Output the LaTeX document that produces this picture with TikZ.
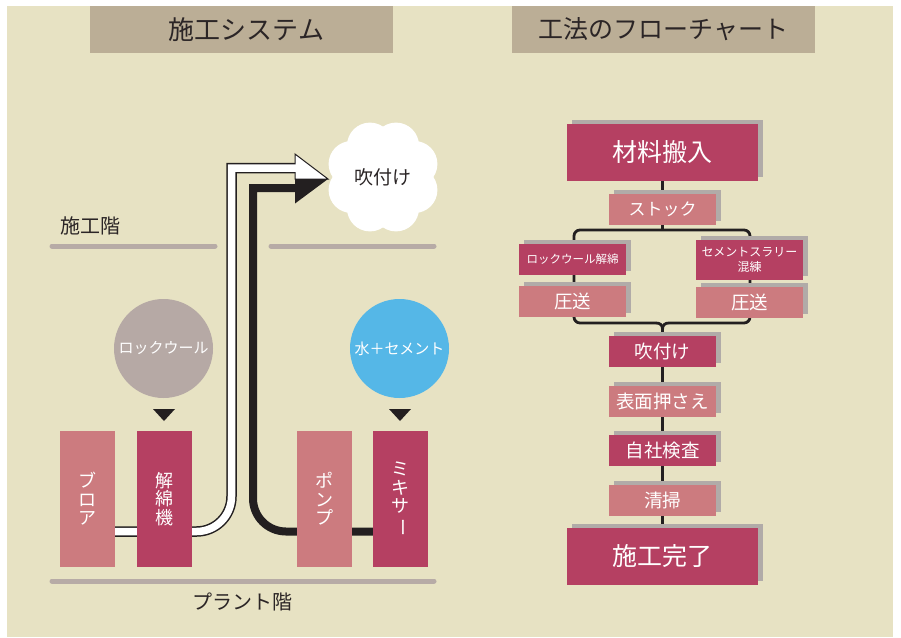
\documentclass[tikz,border=0pt]{standalone}
\usepackage{fontspec}
\setmainfont{Noto Sans CJK JP}
\usetikzlibrary{shadows,backgrounds}
\definecolor{bgc}{HTML}{E7E2C3}
\definecolor{hdrc}{HTML}{BBAE96}
\definecolor{floorc}{HTML}{B7ABA6}
\definecolor{darkp}{HTML}{B54062}
\definecolor{lightp}{HTML}{CC7B7F}
\definecolor{shadc}{HTML}{B1ABA8}
\definecolor{greyc}{HTML}{B6A9A5}
\definecolor{bluec}{HTML}{55B7E7}
\definecolor{inkc}{HTML}{231F20}
\definecolor{txtc}{HTML}{2B2526}
\newcommand\fsz[1]{\fontsize{#1}{#1}\selectfont}
\begin{document}
\begin{tikzpicture}[x=1pt,y=-1pt,
 hdr/.style={fill=hdrc, minimum width=303pt, minimum height=47pt, inner sep=0pt, font=\fsz{25}, text=txtc},
 lbl/.style={font=\fsz{20}, text=txtc, inner sep=0pt},
 floor/.style={draw=floorc, line width=5pt, line cap=round},
 mach/.style={minimum width=55pt, minimum height=136pt, inner sep=0pt, text=white, align=center, font=\fontsize{18}{18.5}\selectfont},
 disc/.style={circle, minimum size=99pt, inner sep=0pt, text=white, font=\fsz{15}},
 fbox/.style={minimum width=107pt, minimum height=31pt, inner sep=0pt, text=white, align=center, drop shadow={shadow xshift=5pt, shadow yshift=4pt, fill=shadc, opacity=1}},
 bigbox/.style={fbox, minimum width=191pt, minimum height=57pt, font=\fsz{25}},
 midbox/.style={fbox, font=\fsz{18.5}},
 dk/.style={fill=darkp}, lt/.style={fill=lightp},
 conn/.style={draw=inkc, line width=2.8pt},
]
\useasboundingbox (0,0) rectangle (901,637);
\begin{scope}[on background layer]
\fill[white] (0,0) rectangle (901,637);
\fill[bgc] (7,6) rectangle (893,637);
\end{scope}

% headers
\node[hdr, font=\fsz{26}] (h1) at (241.5,29.5) {\hspace*{10pt}施工システム};
\node[hdr] (h2) at (663.5,29.5) {工法のフローチャート};

% floors
\draw[floor] (52,246) -- (215,246);
\draw[floor] (271,246) -- (434,246);
\draw[floor] (52,581) -- (434,581);
\node[lbl] (sekokai) at (90,226) {施工階};
\node[lbl] (plant) at (242.5,602) {プラント階};

% pipes
\draw[inkc, line width=10.5pt] (88,531.5) -- (196.5,531.5) .. controls (215.8,531.5) and (231.5,515.8) .. (231.5,496.5) -- (231.5,168) -- (296,168);
\draw[inkc, line width=8pt] (400,531.5) -- (286,531.5) .. controls (267.8,531.5) and (253,516.7) .. (253,498.5) -- (253,188) -- (296,188);
\filldraw[fill=white, draw=inkc, line width=1pt, line join=miter] (295,154) -- (328,179) -- (295,179) -- cycle;
\fill[inkc] (295,179) -- (328,179) -- (295,203.5) -- cycle;
\draw[white, line width=7.5pt] (88,531.5) -- (196.5,531.5) .. controls (215.8,531.5) and (231.5,515.8) .. (231.5,496.5) -- (231.5,168) -- (298,168);

% cloud
\fill[white] (383,177) circle (36pt);
\foreach \a in {22.5,67.5,...,337.5} \fill[white] (383,177) ++(\a:34pt) circle (23pt);
\node[font=\fsz{19}, text=txtc] (cloud) at (383,177) {吹付け};

% feed circles
\node[disc, fill=greyc] (rock) at (163.5,348.5) {ロックウール};
\node[disc, fill=bluec] (water) at (399.5,348.5) {水＋セメント};
\fill[inkc] (153,409) -- (175,409) -- (164,421) -- cycle;
\fill[inkc] (389,409) -- (411,409) -- (400,421) -- cycle;

% machines
\node[mach, lt] (blower) at (87.5,499) {ブ\\ロ\\ア};
\node[mach, dk] (kaimen) at (164.5,499) {解\\綿\\機};
\node[mach, lt] (pump) at (324.5,499) {ポ\\ン\\プ};
\node[mach, dk] (mixer) at (400.5,499) {ミ\\キ\\サ\\\rotatebox[origin=c]{-90}{ー}};

% flowchart
\node[bigbox, dk] (zairyo) at (662.5,152.5) {材料搬入};
\node[midbox, lt, font=\fsz{17}] (stock) at (662.5,209) {ストック};
\node[fbox, dk, font=\fsz{11.5}] (rwkai) at (572.5,259) {ロックウール解綿};
\node[midbox, lt] (asso1) at (572.5,301.5) {圧送};
\node[fbox, dk, minimum height=40pt, font=\fontsize{12}{15}\selectfont] (cement) at (749.5,260) {セメントスラリー\\混練};
\node[midbox, lt] (asso2) at (749.5,302) {圧送};
\node[midbox, dk] (fuki) at (662.5,351.5) {吹付け};
\node[midbox, lt] (hyomen) at (662.5,401.5) {表面押さえ};
\node[midbox, dk] (jisha) at (662.5,450.5) {自社検査};
\node[midbox, lt] (seiso) at (662.5,500.5) {清掃};
\node[bigbox, dk] (kanryo) at (662.5,556.5) {施工完了};

\begin{scope}[on background layer]
\draw[conn] (zairyo.south) -- (stock.north);
\draw[conn] (stock.south) -- (662.5,230);
\draw[conn, rounded corners=6pt] (656,323) -- (574,323) -- (574,230) -- (750,230) -- (750,323) -- (669,323);
\draw[conn] (656,323) .. controls (660,323) and (662.5,325) .. (662.5,329) -- (fuki.north);
\draw[conn] (669,323) .. controls (665,323) and (662.5,325) .. (662.5,329);
\draw[conn] (fuki.south) -- (hyomen.north);
\draw[conn] (hyomen.south) -- (jisha.north);
\draw[conn] (jisha.south) -- (seiso.north);
\draw[conn] (seiso.south) -- (kanryo.north);
\end{scope}
\end{tikzpicture}
\end{document}
